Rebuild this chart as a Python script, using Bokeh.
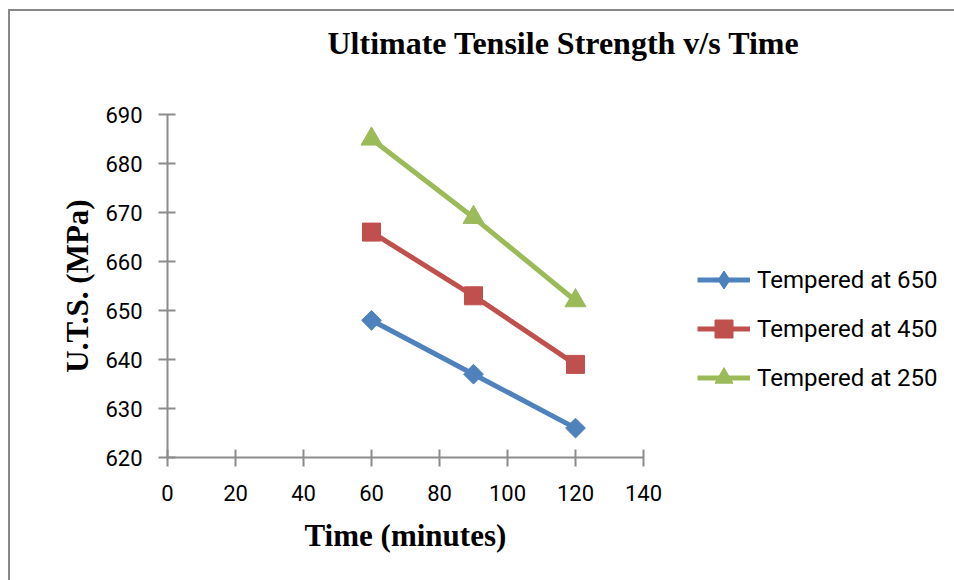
import numpy as np
from bokeh.plotting import figure
from bokeh.models import Legend, LegendItem, FixedTicker, Range1d, LinearAxis, Title
from bokeh.embed import file_html
from bokeh.resources import INLINE

time_min = [60, 90, 120]
uts_650 = [648, 637, 626]
uts_450 = [666, 653, 639]
uts_250 = [685, 669, 652]
series_names = ["Tempered at 650", "Tempered at 450", "Tempered at 250"]
x_ticks = [0, 20, 40, 60, 80, 100, 120, 140]
y_ticks = [620, 630, 640, 650, 660, 670, 680, 690]
chart_title = "Ultimate Tensile Strength v/s Time"
x_label = "Time (minutes)"
y_label = "U.T.S. (MPa)"

c_blue = "#4F81BD"
c_red = "#C0504D"
c_green = "#9BBB59"
axis_gray = "#8C8C8C"

# layout (pixels)
frame_left, frame_axis_right, frame_right = 167, 643, 944
px_per_unit = (frame_axis_right - frame_left) / (x_ticks[-1] - x_ticks[0])
x_end = x_ticks[0] + (frame_right - frame_left) / px_per_unit

p = figure(width=954, height=580, output_backend="svg", toolbar_location=None,
           x_range=Range1d(x_ticks[0], x_end), y_range=Range1d(620, 690),
           x_axis_location=None,
           min_border_left=frame_left, min_border_right=954 - frame_right,
           min_border_top=114, min_border_bottom=123)
p.outline_line_color = None
p.xgrid.grid_line_color = None
p.ygrid.grid_line_color = None
p.background_fill_color = "white"
p.border_fill_color = None
p.styles = {
    "background-color": "white",
    "background-image": "linear-gradient(#888888, #888888), linear-gradient(#888888, #888888)",
    "background-size": "calc(100% - 8px) 2px, 2px calc(100% - 9px)",
    "background-position": "8px 9px, 8px 9px",
    "background-repeat": "no-repeat",
}

xaxis = LinearAxis(bounds=(x_ticks[0], x_ticks[-1]))
p.add_layout(xaxis, "below")

for ax in (xaxis, p.yaxis[0]):
    ax.axis_line_color = axis_gray
    ax.axis_line_width = 2
    ax.major_tick_line_color = axis_gray
    ax.major_tick_line_width = 2
    ax.major_tick_in = 8
    ax.major_tick_out = 9
    ax.minor_tick_line_color = None
    ax.major_label_text_font = "Roboto"
    ax.major_label_text_font_size = "22px"
    ax.major_label_text_color = "black"
    ax.axis_label_text_font = "Liberation Serif"
    ax.axis_label_text_font_style = "bold"
    ax.axis_label_text_font_size = "31px"
    ax.axis_label_text_color = "black"

xaxis.ticker = FixedTicker(ticks=x_ticks)
p.yaxis.ticker = FixedTicker(ticks=y_ticks)
xaxis.major_label_standoff = 18
p.yaxis.major_label_standoff = 16
p.yaxis.axis_label = y_label
p.yaxis.axis_label_standoff = 7

serif = dict(text_font="Liberation Serif", text_font_style="bold",
             text_color="black")

xtitle = Title(text=x_label, align="left", offset=137, vertical_align="top",
               standoff=28, text_font_size="31px", **serif)
p.add_layout(xtitle, "below")

title = Title(text=chart_title + "\n\u00a0", align="left", offset=160,
              vertical_align="top", standoff=32, text_font_size="32px", **serif)
p.add_layout(title, "above")

l1 = p.line(time_min, uts_650, line_color=c_blue, line_width=5)
m1 = p.scatter(time_min, uts_650, marker="square", angle=np.pi / 4, size=14,
               fill_color=c_blue, line_color=c_blue)
l2 = p.line(time_min, uts_450, line_color=c_red, line_width=5)
m2 = p.scatter(time_min, uts_450, marker="square", size=18,
               fill_color=c_red, line_color=c_red)
l3 = p.line(time_min, uts_250, line_color=c_green, line_width=5)
m3 = p.scatter(time_min, uts_250, marker="triangle", size=21,
               fill_color=c_green, line_color=c_green)
m1_leg = p.scatter([np.nan], [np.nan], marker="diamond", size=18,
                   fill_color=c_blue, line_color=c_blue)

legend = Legend(items=[
    LegendItem(label=series_names[0], renderers=[l1, m1_leg]),
    LegendItem(label=series_names[1], renderers=[l2, m2]),
    LegendItem(label=series_names[2], renderers=[l3, m3]),
], location=(530, 57))
legend.border_line_color = None
legend.background_fill_alpha = 0
legend.padding = 0
legend.margin = 0
legend.glyph_width = 53
legend.glyph_height = 45
legend.label_height = 45
legend.spacing = 4
legend.label_standoff = 7
legend.label_text_font = "Roboto"
legend.label_text_font_size = "24px"
legend.label_text_color = "black"
p.add_layout(legend)

open("out.html", "w").write(file_html(p, INLINE))
